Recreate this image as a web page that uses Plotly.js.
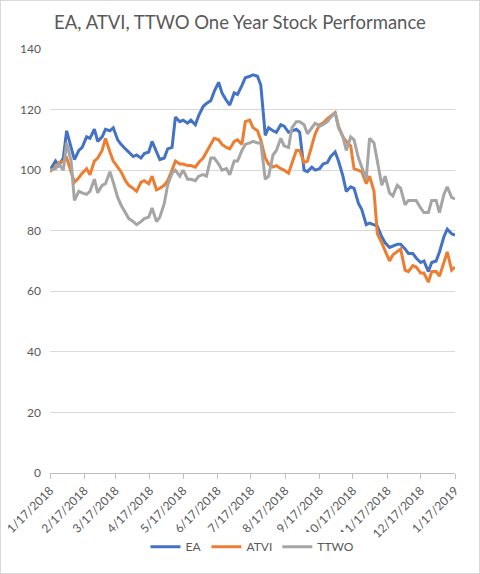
<!DOCTYPE html>
<html>
<head>
<meta charset="utf-8">
<script src="https://cdn.plot.ly/plotly-3.0.1.min.js"></script>
<style>
html,body{margin:0;padding:0;background:#fff;}
#chart{width:480px;height:574px;box-sizing:border-box;border:1px solid #d9d9d9;}
</style>
</head>
<body>
<div id="chart"></div>
<script>
const dates = [
"2018-01-17","2018-01-22","2018-01-25","2018-01-29","2018-02-01","2018-02-05","2018-02-08","2018-02-12","2018-02-15","2018-02-19",
"2018-02-22","2018-02-26","2018-03-01","2018-03-05","2018-03-08","2018-03-12","2018-03-15","2018-03-19","2018-03-22","2018-03-26",
"2018-03-29","2018-04-02","2018-04-05","2018-04-09","2018-04-12","2018-04-16","2018-04-19","2018-04-23","2018-04-26","2018-04-30",
"2018-05-03","2018-05-07","2018-05-10","2018-05-14","2018-05-17","2018-05-21","2018-05-24","2018-05-28","2018-05-31","2018-06-04",
"2018-06-07","2018-06-11","2018-06-14","2018-06-18","2018-06-21","2018-06-25","2018-06-28","2018-07-02","2018-07-05","2018-07-09",
"2018-07-12","2018-07-16","2018-07-19","2018-07-23","2018-07-26","2018-07-30","2018-08-02","2018-08-06","2018-08-09","2018-08-13",
"2018-08-16","2018-08-20","2018-08-23","2018-08-27","2018-08-30","2018-09-03","2018-09-06","2018-09-10","2018-09-13","2018-09-17",
"2018-09-20","2018-09-24","2018-09-27","2018-10-01","2018-10-04","2018-10-08","2018-10-11","2018-10-15","2018-10-18","2018-10-22",
"2018-10-25","2018-10-29","2018-11-01","2018-11-05","2018-11-08","2018-11-12","2018-11-15","2018-11-19","2018-11-22","2018-11-26",
"2018-11-29","2018-12-03","2018-12-06","2018-12-10","2018-12-13","2018-12-17","2018-12-20","2018-12-24","2018-12-27","2018-12-31",
"2019-01-03","2019-01-07","2019-01-10","2019-01-14","2019-01-17"
];

const ea = [
100,103,101.5,104,113,107,103.5,106.5,107.5,111,
110.5,113.5,109.5,111,113.5,113,114,110,108.5,107,
106,104.5,105,104,105.5,106,109.5,106,103.5,104,
107,107.5,117.5,116,116.5,115.5,116.5,115,118,121,
122,123,126,129,125.5,123,121.5,125.5,125,128,
130.5,131,131.5,131,128,111.5,114,113,112.5,115,
114.5,112.5,113,113.5,112.5,100,99.5,101,100,100.5,
102,102.5,104.5,106,103,98,93,94.5,94,89,
87,82,82.5,82,81.5,78,76,74.5,75,75.5,
75.5,74,72.5,72.5,71,69.5,70,66.5,69.5,70,
73,78,80.5,79,78.5
];

const atvi = [
99.5,101,102.5,103,104,99.5,96,97.5,99,100.5,
98.5,103,104,106.5,110.5,106,103,101,99.5,96.5,
95,94,93,96,96.5,95.5,98,93.5,94,95,
96.5,100,103,102,102,101.5,101.5,101,102.5,104,
106,108.5,110.5,110,108.5,107.5,107,109.5,110,108.5,
116,116.5,114,113,110,104,102,101,101.5,100.5,
100,99,102,106.5,106.5,102.5,103,108,112,115,
115.5,117,118,119,114.5,111,109.5,108,100.5,100,
99.5,95.5,98,93,79,76,73.5,70,72,73,
74,67,66.5,68.5,68,66,66,63,66.5,66.5,
65,69.5,73,67,68
];

const ttwo = [
100,100.5,102,100,109,103,90,93,92.5,92,
93,97,92.5,95,95.5,99.5,96,91,88.5,86,
84,83,82,83,84,84.5,87.5,83,84.5,89,
95,99,100,98,100,97,97,96.5,98,98.5,
98,104,104,102,100,100.5,98.5,103,103,106.5,
108.5,109,109.5,109,109,97,98,105,106.5,110.5,
108,107.5,114,116,116,115,112,114,115.5,114.5,
115,116,117.5,119,114,111,106.5,111,110,104,
101,97,110.5,109,103,95,98,92.5,91.5,95,
94,88.5,90,90,90,87.5,86,86,90,90,
86,92,94.5,91,90.5
];

const yTicks = [0, 20, 40, 60, 80, 100, 120, 140];
const xTickVals = ["2018-01-17","2018-02-17","2018-03-17","2018-04-17","2018-05-17","2018-06-17","2018-07-17",
  "2018-08-17","2018-09-17","2018-10-17","2018-11-17","2018-12-17","2019-01-17"];
const xTickText = ["1/17/2018","2/17/2018","3/17/2018","4/17/2018","5/17/2018","6/17/2018","7/17/2018",
  "8/17/2018","9/17/2018","10/17/2018","11/17/2018","12/17/2018","1/17/2019"];

const FONT = "Lato, 'Open Sans', sans-serif";

const traces = [
  {x: dates, y: ea, name: "EA", type: "scatter", mode: "lines", line: {color: "#4472C4", width: 3}},
  {x: dates, y: atvi, name: "ATVI", type: "scatter", mode: "lines", line: {color: "#ED7D31", width: 3}},
  {x: dates, y: ttwo, name: "TTWO", type: "scatter", mode: "lines", line: {color: "#A5A5A5", width: 3}}
];

const layout = {
  width: 478, height: 572,
  margin: {l: 49, r: 24, t: 48, b: 98},
  paper_bgcolor: "#ffffff",
  plot_bgcolor: "#ffffff",
  font: {family: FONT, color: "#595959", size: 12},
  title: {text: "EA, ATVI, TTWO One Year Stock Performance", x: 0.5, xanchor: "center", y: 0.962, yanchor: "middle",
          font: {family: FONT, size: 18.5, color: "#595959"}},
  showlegend: true,
  legend: {orientation: "h", x: 0.5, xanchor: "center", y: -0.174, yanchor: "middle",
           font: {family: FONT, size: 12, color: "#595959"}, itemwidth: 30, traceorder: "normal"},
  xaxis: {
    type: "date",
    automargin: false,
    range: ["2018-01-17", "2019-01-17"],
    tickmode: "array", tickvals: xTickVals, ticktext: xTickText,
    tickangle: -45,
    showgrid: false, zeroline: false,
    showline: true, linecolor: "#bfbfbf", linewidth: 1,
    ticks: "outside", ticklen: 5, tickcolor: "#bfbfbf",
    tickfont: {family: FONT, size: 12, color: "#595959"}
  },
  yaxis: {
    automargin: false,
    range: [0, 140],
    tickmode: "array", tickvals: yTicks,
    showgrid: true, gridcolor: "#d9d9d9", gridwidth: 1,
    zeroline: false, showline: false, ticks: "",
    ticklabelstandoff: 8,
    tickfont: {family: FONT, size: 12, color: "#595959"}
  }
};

Plotly.newPlot("chart", traces, layout, {displayModeBar: false, staticPlot: true});
</script>
</body>
</html>
